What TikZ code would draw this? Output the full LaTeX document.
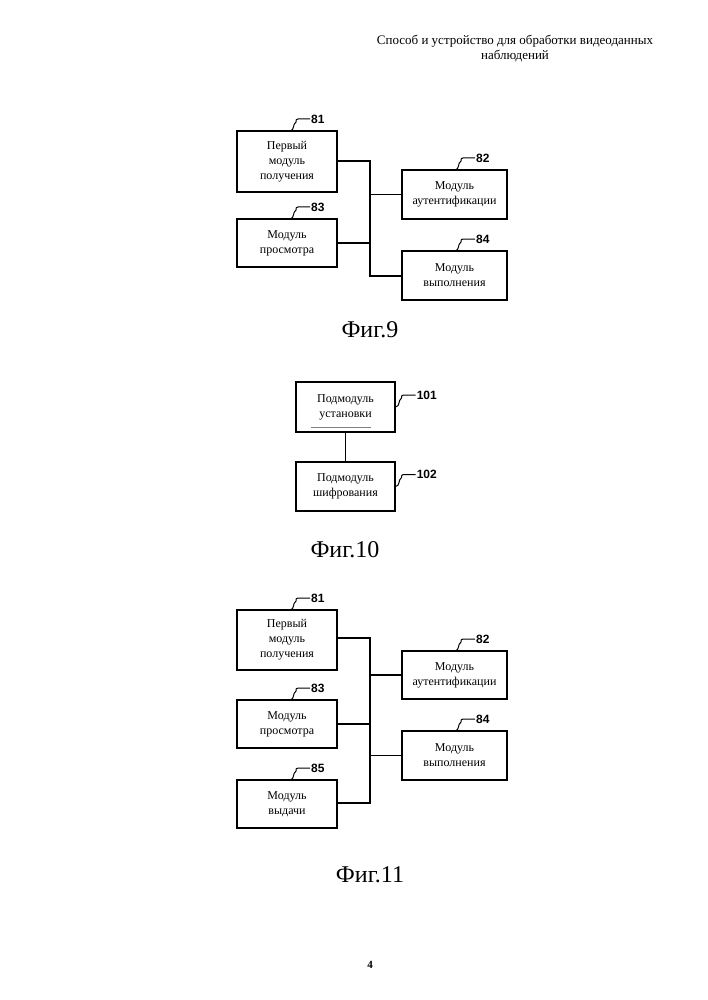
\documentclass[tikz,border=0pt]{standalone}
\usepackage{fontspec}
\setmainfont{Liberation Serif}
\newfontfamily\numfont{Liberation Sans}
\begin{document}
\begin{tikzpicture}[x=1pt,y=-1pt,
  box/.style={draw,line width=1.1pt,minimum width=#1,inner sep=0pt,align=center,font=\fontsize{12}{15}\selectfont},
  num/.style={font=\numfont\bfseries\fontsize{12}{14}\selectfont,anchor=west,inner sep=1pt},
  wire/.style={line width=1.1pt},
  sq/.style={line width=1pt},
  figcap/.style={font=\fontsize{24}{28}\selectfont}]
\useasboundingbox (0,0) rectangle (707,1000);
\newcommand\squig[3]{% start coordinate name, label node name, text
  \path (#1) ++(8,-12) coordinate (#2c);
  \node[num] (#2) at ([xshift=12]#2c) {#3};
  \draw[sq] (#1) .. controls ++(5,-1) and ++(-4,3) .. ++(6,-9) .. controls ++(1,-2) and ++(-3,0) .. (#2c) -- (#2.west);}
\node[align=center,font=\fontsize{13}{15}\selectfont] (hdr) at (515,49) {Способ и устройство для обработки видеоданных\\наблюдений};
% Fig 9
\node[box=100pt,minimum height=61pt] (a81) at (287,161.5) {Первый\\модуль\\получения};
\node[box=100pt,minimum height=48pt] (a83) at (287,243) {Модуль\\просмотра};
\node[box=105pt,minimum height=49pt] (a82) at (454.5,194.5) {Модуль\\аутентификации};
\node[box=105pt,minimum height=49pt] (a84) at (454.5,275.5) {Модуль\\выполнения};
\coordinate (b9t) at (370,161); \coordinate (b9b) at (370,276);
\draw[wire] (a81.east|-b9t) -- (b9t) -- (b9b) -- (a84.west|-b9b);
\draw[wire] (a83.east) -- (a83.east-|b9t);
\draw[wire] (a82.west-|b9t) -- (a82.west);
\coordinate (s81) at (290,131); \squig{s81}{n81}{81}
\coordinate (s83) at (290,219); \squig{s83}{n83}{83}
\coordinate (s82) at (455,170); \squig{s82}{n82}{82}
\coordinate (s84) at (455,251); \squig{s84}{n84}{84}
\node[figcap] (f9) at (370,330) {Фиг.9};
% Fig 10
\node[box=99pt,minimum height=50pt] (c101) at (345.5,407) {Подмодуль\\установки};
\node[box=99pt,minimum height=49pt] (c102) at (345.5,486.5) {Подмодуль\\шифрования};
\draw[wire] (c101) -- (c102);
\draw[gray,line width=0.8pt] (311,427) -- (371,427);
\coordinate (s101) at (c101.east); \squig{s101}{n101}{101}
\coordinate (s102) at (c102.east); \squig{s102}{n102}{102}
\node[figcap] (f10) at (345,550) {Фиг.10};
% Fig 11
\node[box=100pt,minimum height=60pt] (d81) at (287,640) {Первый\\модуль\\получения};
\node[box=100pt,minimum height=48pt] (d83) at (287,724) {Модуль\\просмотра};
\node[box=100pt,minimum height=48pt] (d85) at (287,804) {Модуль\\выдачи};
\node[box=105pt,minimum height=48pt] (d82) at (454.5,675) {Модуль\\аутентификации};
\node[box=105pt,minimum height=49pt] (d84) at (454.5,755.5) {Модуль\\выполнения};
\coordinate (b11t) at (370,638); \coordinate (b11b) at (370,803);
\draw[wire] (d81.east|-b11t) -- (b11t) -- (b11b) -- (d85.east|-b11b);
\draw[wire] (d83.east) -- (d83.east-|b11t);
\draw[wire] (d82.west-|b11t) -- (d82.west);
\draw[wire] (d84.west-|b11t) -- (d84.west);
\coordinate (t81) at (290,610); \squig{t81}{m81}{81}
\coordinate (t83) at (290,700); \squig{t83}{m83}{83}
\coordinate (t85) at (290,780); \squig{t85}{m85}{85}
\coordinate (t82) at (455,651); \squig{t82}{m82}{82}
\coordinate (t84) at (455,731); \squig{t84}{m84}{84}
\node[figcap] (f11) at (370,875) {Фиг.11};
\node[font=\bfseries\fontsize{11}{13}\selectfont] (pg) at (370,965) {4};
\end{tikzpicture}
\end{document}
